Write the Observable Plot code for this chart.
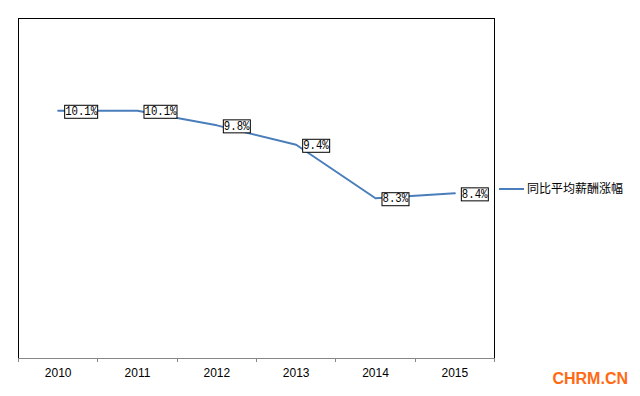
<!DOCTYPE html>
<html>
<head>
<meta charset="utf-8">
<script src="https://cdn.jsdelivr.net/npm/d3@7"></script>
<script src="https://cdn.jsdelivr.net/npm/@observablehq/plot@0.6"></script>
<style>
  html, body { margin: 0; padding: 0; background: #fff; }
  #chart { width: 640px; height: 396px; }
</style>
</head>
<body>
<div id="chart"></div>
<script>
const years = ["2010", "2011", "2012", "2013", "2014", "2015"];
const growth = [10.1, 10.1, 9.8, 9.4, 8.3, 8.4];
const seriesName = "同比平均薪酬涨幅";
const watermark = "CHRM.CN";

const data = years.map((y, i) => ({idx: i + 0.5, year: y, value: growth[i]}));
const boundaries = d3.range(0, years.length + 1);
const centers = years.map((_, i) => i + 0.5);

const blue = "#4A7EBB";

const plot = Plot.plot({
  width: 640,
  height: 396,
  marginLeft: 18,
  marginRight: 146,
  marginTop: 18,
  marginBottom: 38,
  style: {background: "#fff", overflow: "visible"},
  x: {type: "linear", domain: [0, years.length], axis: null, label: null},
  y: {domain: [5, 12], axis: null, label: null},
  marks: [
    Plot.frame({stroke: "#000", shapeRendering: "crispEdges"}),
    Plot.ruleY([5], {stroke: "#868686", shapeRendering: "crispEdges"}),
    Plot.axisX({ticks: boundaries, tickSize: 4, tickFormat: () => "", label: null, stroke: "#868686", shapeRendering: "crispEdges"}),
    Plot.axisX({ticks: centers, tickSize: 0, tickPadding: 10, label: null, tickFormat: d => years[Math.round(d - 0.5)],
      fontSize: 12, fontFamily: "Liberation Sans, Arial, sans-serif", fill: "#000"}),
    Plot.line(data, {x: "idx", y: "value", stroke: blue, strokeWidth: 2}),
    Plot.text(data, {x: "idx", y: "value", text: d => d.value.toFixed(1) + "%", textAnchor: "start", dx: 7,
      fontSize: 13, fontFamily: "Liberation Mono, DejaVu Sans Mono, monospace", fill: "#000"})
  ]
});

document.getElementById("chart").appendChild(plot);

// boxes behind data labels
const svg = d3.select(plot);
svg.selectAll('g[aria-label="text"] text').each(function() {
  const n = this.textContent.length;
  this.setAttribute("textLength", n * 6.4);
  this.setAttribute("lengthAdjust", "spacingAndGlyphs");
  const b = this.getBBox();
  const t = this.getAttribute("transform");
  const cy = b.y + b.height / 2;
  const r = document.createElementNS("http://www.w3.org/2000/svg", "rect");
  r.setAttribute("x", Math.round(b.x - 1) + 0.5);
  r.setAttribute("y", Math.round(cy - 6.5) + 0.5);
  r.setAttribute("width", Math.round(n * 6.4) + 1);
  r.setAttribute("height", 13);
  r.setAttribute("fill", "#fff");
  r.setAttribute("stroke", "#000");
  r.setAttribute("stroke-width", 1);
  if (t) r.setAttribute("transform", t);
  this.parentNode.insertBefore(r, this);
});

// legend on the right
const lg = svg.append("g").attr("text-anchor", "start");
lg.append("line").attr("x1", 499).attr("x2", 524).attr("y1", 189).attr("y2", 189)
  .attr("stroke", blue).attr("stroke-width", 2);
lg.append("text").attr("x", 527).attr("y", 189).attr("dy", "0.35em").attr("text-anchor", "start")
  .attr("font-size", 12).attr("font-family", "Noto Sans CJK SC, sans-serif").attr("fill", "#000")
  .text(seriesName);

// watermark
svg.append("text").attr("x", 628).attr("y", 384).attr("text-anchor", "end")
  .attr("font-size", 16).attr("font-weight", "bold").attr("font-family", "Liberation Sans, Arial, sans-serif")
  .attr("fill", "#FF6A13").text(watermark);
</script>
</body>
</html>
